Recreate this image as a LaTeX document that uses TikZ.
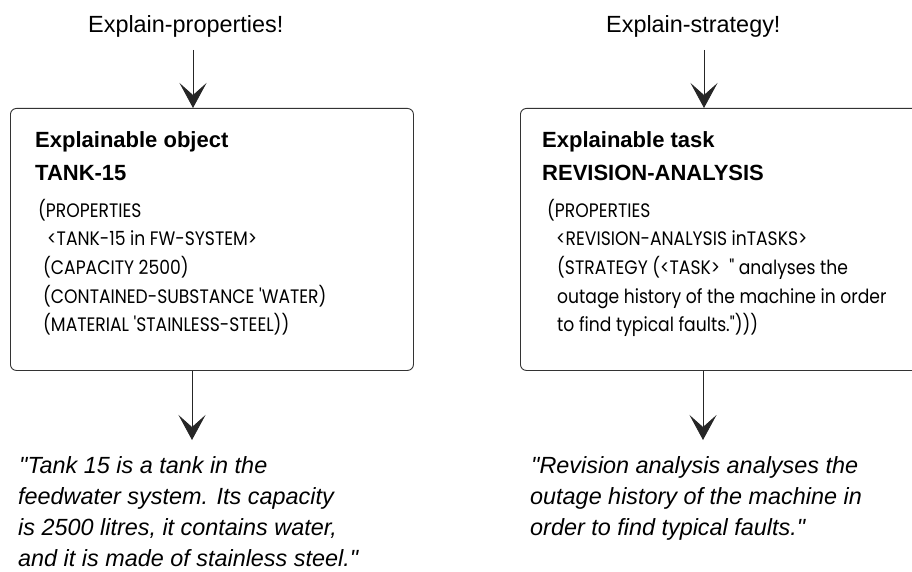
\documentclass[tikz,border=0pt]{standalone}
\usepackage{fontspec}
\setmainfont{Liberation Sans}[Ligatures=TeXOff]
\newfontfamily\gothicfam{Poppins}[Ligatures=TeXOff, FakeStretch=0.88]
\usetikzlibrary{arrows.meta}
\newcommand{\gothic}{\gothicfam\fontsize{19.5}{28.7}\selectfont}
\tikzset{
  boxshape/.style={draw=black!80, line width=0.9pt, rounded corners=6pt, inner sep=0pt, anchor=north west},
  arr/.style={draw=black!85, line width=0.8pt, -{Stealth[length=25pt,width=27pt,inset=12pt]}},
  cmdtext/.style={inner sep=0pt, anchor=base west, font=\fontsize{23.4}{28}\selectfont},
  headtext/.style={inner sep=0pt, anchor=base west, font=\bfseries\fontsize{22}{32}\selectfont},
  codetext/.style={inner sep=0pt, anchor=base west, font=\gothic},
  saytext/.style={inner sep=0pt, anchor=base west, font=\itshape\fontsize{23.4}{31}\selectfont}
}
\begin{document}
\begin{tikzpicture}[x=1pt,y=-1pt]
\useasboundingbox (0,0) rectangle (912,572);
\clip (0,0) rectangle (912,572);
% titles
\node[cmdtext] (t1) at (88,33) {Explain-properties!};
\node[cmdtext] (t2) at (606,33) {Explain-strategy!};
% boxes
\node[boxshape, minimum width=403pt, minimum height=262pt] (box1) at (10,108) {};
\node[boxshape, minimum width=470pt, minimum height=262pt] (box2) at (520,108) {};
% arrow coordinates
\coordinate (s1) at (193,50);
\coordinate (s2) at (704,50);
\coordinate (e1) at (192,440);
\coordinate (e2) at (703,440);
\draw[arr] (s1) -- (box1.north -| s1);
\draw[arr] (s2) -- (box2.north -| s2);
\draw[arr] (box1.south -| e1) -- (e1);
\draw[arr] (box2.south -| e2) -- (e2);
% box 1 contents
\node[headtext] (h11) at (35,148) {Explainable object};
\node[headtext] (h12) at (35,180) {TANK-15};
\node[codetext] (c11) at (38,217) {(PROPERTIES};
\node[codetext] (c12) at (47,245.7) {<TANK-15 in FW-SYSTEM>};
\node[codetext] (c13) at (43,274.4) {(CAPACITY 2500)};
\node[codetext] (c14) at (43,303.1) {(CONTAINED-SUBSTANCE 'WATER)};
\node[codetext] (c15) at (43,331.8) {(MATERIAL 'STAINLESS-STEEL))};
% box 2 contents
\node[headtext] (h21) at (542,148) {Explainable task};
\node[headtext] (h22) at (542,180) {REVISION-ANALYSIS};
\node[codetext] (c21) at (547,217) {(PROPERTIES};
\node[codetext] (c22) at (556,245.7) {<REVISION-ANALYSIS inTASKS>};
\node[codetext] (c23) at (557,274.4) {(STRATEGY (<TASK>\ \ " analyses the};
\node[codetext] (c24) at (557,303.1) {outage history of the machine in order};
\node[codetext] (c25) at (557,331.8) {to find typical faults.")))};
% explanations
\node[saytext] (x11) at (19,473) {"Tank 15 is a tank in the};
\node[saytext] (x12) at (18,504.3) {feedwater system. Its capacity};
\node[saytext] (x13) at (18,535.6) {is 2500 litres, it contains water,};
\node[saytext] (x14) at (18,566.9) {and it is made of stainless steel."};
\node[saytext] (x21) at (531,473) {"Revision analysis analyses the};
\node[saytext] (x22) at (530,504.3) {outage history of the machine in};
\node[saytext] (x23) at (530,535.6) {order to find typical faults."};
\end{tikzpicture}
\end{document}
